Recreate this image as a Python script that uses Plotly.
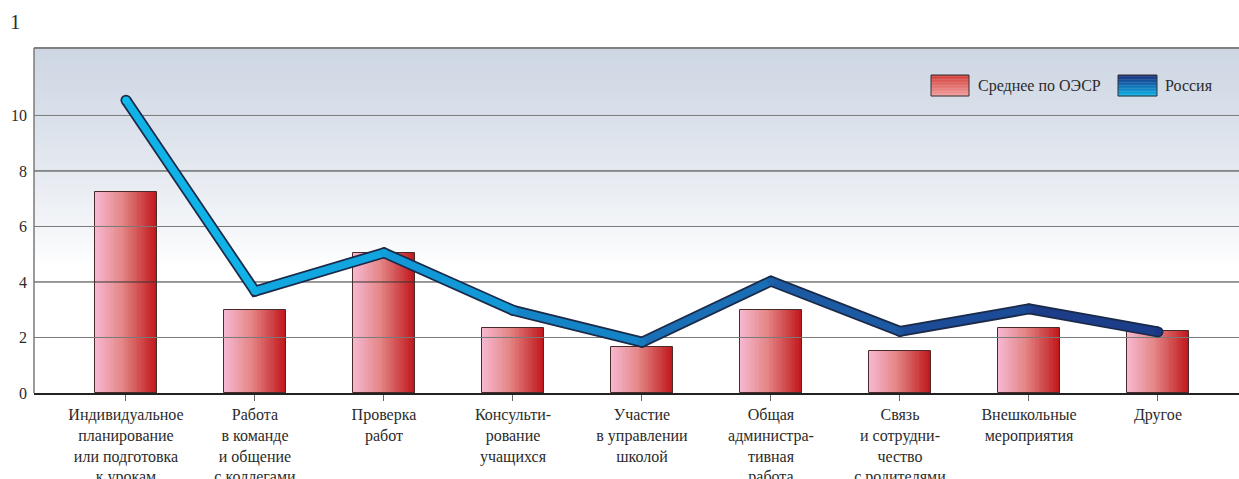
import plotly.graph_objects as go
import numpy as np

categories = [
    "Индивидуальное<br>планирование<br>или подготовка<br>к урокам",
    "Работа<br>в команде<br>и общение<br>с коллегами",
    "Проверка<br>работ",
    "Консульти-<br>рование<br>учащихся",
    "Участие<br>в управлении<br>школой",
    "Общая<br>администра-<br>тивная<br>работа",
    "Связь<br>и сотрудни-<br>чество<br>с родителями",
    "Внешкольные<br>мероприятия",
    "Другое",
]
oecd = [7.25, 3.0, 5.05, 2.35, 1.65, 3.0, 1.5, 2.35, 2.24]
russia = [10.55, 3.67, 5.05, 2.98, 1.83, 4.03, 2.22, 3.03, 2.2]
ytick_vals = [0, 2, 4, 6, 8, 10]
series_names = ["Среднее по ОЭСР", "Россия"]

FONT = "Liberation Serif, DejaVu Serif, serif"
TXT = "#2b2b2b"
FS = 16
W, H = 1239, 479
L, R, T, B = 34, 0, 48, 86
XR = [-0.713, 8.628]
YR = [0, 12.43]

def lerp_hex(c1, c2, t):
    a = [int(c1[i:i + 2], 16) for i in (1, 3, 5)]
    b = [int(c2[i:i + 2], 16) for i in (1, 3, 5)]
    return "#%02x%02x%02x" % tuple(round(a[k] + (b[k] - a[k]) * t) for k in range(3))

def grad(stops, t):
    for i in range(len(stops) - 1):
        t0, c0 = stops[i]
        t1, c1 = stops[i + 1]
        if t <= t1:
            return lerp_hex(c0, c1, (t - t0) / (t1 - t0) if t1 > t0 else 0)
    return stops[-1][1]

x = list(range(len(categories)))
fig = go.Figure()

# background gradient (heatmap, drawn below bars)
bg_y = [-1, 4.5, 6, 8, 10, 12.43, 14]
bg_z = [[0, 0], [0, 0], [0.25, 0.25], [0.52, 0.52], [0.76, 0.76], [1, 1], [1, 1]]
fig.add_trace(go.Heatmap(x=[-2, 10], y=bg_y, z=bg_z, zsmooth="best",
                         colorscale=[[0, "#ffffff"], [1, "#cdd6e3"]],
                         showscale=False, hoverinfo="skip"))

# bars with horizontal gradient as slices
BW = 0.48
NS = 48
bar_stops = [(0, "#f6b9d2"), (0.45, "#e48686"), (1, "#c0161a")]
for k in range(NS):
    w = BW / NS
    fig.add_trace(go.Bar(x=x, y=oecd, width=w * 1.15, offset=-BW / 2 + k * w,
                         marker=dict(color=grad(bar_stops, (k + 0.5) / NS), line=dict(width=0)),
                         showlegend=False, hoverinfo="skip"))
fig.add_trace(go.Bar(x=x, y=oecd, width=BW, offset=-BW / 2, name=series_names[0],
                     marker=dict(color="rgba(0,0,0,0)", line=dict(color="#4a2a2a", width=1)),
                     showlegend=False))

# gridlines (above bars)
for v in ytick_vals[1:]:
    col = "#333333" if v % 4 == 0 else "#7a7a7a"
    fig.add_trace(go.Scatter(x=XR, y=[v, v], mode="lines", line=dict(color=col, width=1),
                             showlegend=False, hoverinfo="skip"))

# Russia line: dark outline + gradient inner segments
fig.add_trace(go.Scatter(x=x, y=russia, mode="lines+markers", name=series_names[1],
                         line=dict(color="#1b2a48", width=11),
                         marker=dict(size=11, color="#1b2a48", line=dict(width=0)),
                         showlegend=False))
line_stops = [(0, "#0fbaec"), (0.35, "#1294d4"), (0.65, "#1c5ea8"), (1, "#1b3684")]
n = len(russia)
for i in range(n - 1):
    c = grad(line_stops, (i + 0.5) / (n - 1))
    fig.add_trace(go.Scatter(x=x[i:i + 2], y=russia[i:i + 2], mode="lines",
                             line=dict(color=c, width=7.5), showlegend=False, hoverinfo="skip"))
for i in range(n):
    c = grad(line_stops, i / (n - 1))
    fig.add_trace(go.Scatter(x=[x[i]], y=[russia[i]], mode="markers",
                             marker=dict(size=7.5, color=c, line=dict(width=0)),
                             showlegend=False, hoverinfo="skip"))

# helpers for pixel -> paper
pw, ph = W - L - R, H - T - B
def px(xp):
    return (xp - L) / pw
def py(yp):
    return (H - B - yp) / ph

shapes = []
# frame: top and left
shapes.append(dict(type="line", xref="paper", yref="paper", x0=0, x1=1, y0=1, y1=1,
                   line=dict(color="#808080", width=2)))
shapes.append(dict(type="line", xref="paper", yref="paper", x0=0, x1=0, y0=0, y1=1,
                   line=dict(color="#7a7a7a", width=1.5)))

# legend swatches
def swatch(x0, x1, y0, y1, top, bottom):
    m = 14
    for k in range(m):
        ya = y0 + (y1 - y0) * k / m
        yb = y0 + (y1 - y0) * (k + 1) / m
        shapes.append(dict(type="rect", xref="paper", yref="paper",
                           x0=px(x0), x1=px(x1), y0=py(ya), y1=py(yb + 0.3),
                           fillcolor=lerp_hex(top, bottom, (k + 0.5) / m), line=dict(width=0)))
    shapes.append(dict(type="rect", xref="paper", yref="paper",
                       x0=px(x0), x1=px(x1), y0=py(y0), y1=py(y1),
                       fillcolor="rgba(0,0,0,0)", line=dict(color="#333333", width=1)))

swatch(931, 969, 75, 96, "#d43e38", "#f2a0a0")
swatch(1118, 1157, 75, 96, "#1a2c7c", "#0fb4ea")

annotations = [
    dict(text=series_names[0], xref="paper", yref="paper", x=px(976), y=py(85.5),
         xanchor="left", yanchor="middle", showarrow=False, font=dict(family=FONT, size=FS, color=TXT)),
    dict(text=series_names[1], xref="paper", yref="paper", x=px(1163), y=py(85.5),
         xanchor="left", yanchor="middle", showarrow=False, font=dict(family=FONT, size=FS, color=TXT)),
    dict(text="1", xref="paper", yref="paper", x=px(8), y=py(22),
         xanchor="left", yanchor="middle", showarrow=False, font=dict(family=FONT, size=21, color=TXT)),
]

fig.update_layout(
    width=W, height=H,
    margin=dict(l=L, r=R, t=T, b=B, pad=0, autoexpand=False),
    paper_bgcolor="white", plot_bgcolor="white",
    barmode="overlay", bargap=0,
    showlegend=False,
    font=dict(family=FONT, size=FS, color=TXT),
    shapes=shapes, annotations=annotations,
    xaxis=dict(range=XR, tickvals=x, ticktext=categories, showgrid=False, zeroline=False,
               automargin=False,
               showline=True, linecolor="#222222", linewidth=1.5,
               ticks="outside", ticklen=6, tickcolor="#666666", tickwidth=1,
               tickfont=dict(family=FONT, size=FS, color=TXT)),
    yaxis=dict(range=YR, tickvals=ytick_vals, showgrid=False, zeroline=False,
               automargin=False,
               showline=False, ticks="", ticklabelstandoff=6,
               tickfont=dict(family=FONT, size=FS, color=TXT)),
)

fig.write_html("out.html", config={"displayModeBar": False},
               post_script="document.body.style.margin='0';document.body.style.overflow='hidden';")
